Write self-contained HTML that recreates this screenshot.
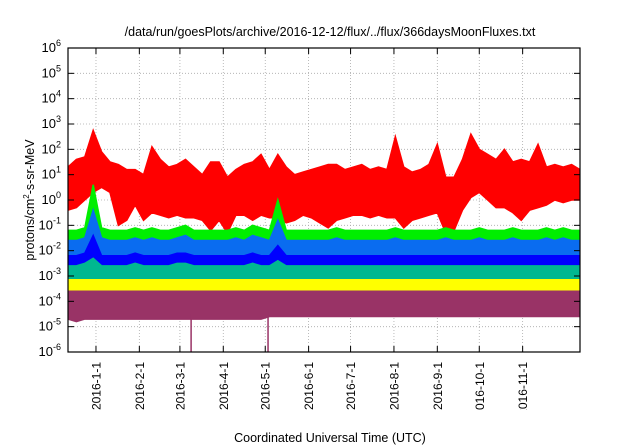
<!DOCTYPE html>
<html><head><meta charset="utf-8"><style>
body{margin:0;background:#fff}
svg{display:block;font-family:"Liberation Sans",sans-serif}
</style></head><body>
<svg id="chart" width="640" height="448" viewBox="0 0 640 448">
<defs><clipPath id="plotclip"><rect x="68" y="48" width="512" height="304"/></clipPath>
<clipPath id="labclip"><rect x="0" y="354" width="640" height="56"/></clipPath></defs>
<rect width="640" height="448" fill="#fff"/>
<text x="330" y="36" text-anchor="middle" font-size="12.5">/data/run/goesPlots/archive/2016-12-12/flux/../flux/366daysMoonFluxes.txt</text>
<g id="grid"></g>
<g id="series" clip-path="url(#plotclip)"></g>
<rect x="68" y="48" width="512" height="304" fill="none" stroke="#000" stroke-width="1.2"/>
<g id="axes"></g>
<g id="xlabels" clip-path="url(#labclip)"></g>
<text transform="translate(34,200) rotate(-90)" text-anchor="middle" font-size="12.5">protons/cm<tspan font-size="8" dy="-5">2</tspan><tspan dy="5">-s-sr-MeV</tspan></text>
<text x="330" y="442" text-anchor="middle" font-size="12.5">Coordinated Universal Time (UTC)</text>
</svg>
<script>
// days from 2015-12-12, sampled every 6 days; values are log10(flux)
const sampleStep = 6;
const redHi = [1.3,1.6,1.7,2.75,1.9,1.5,1.4,1.2,1.2,1.0,2.1,1.6,1.3,1.4,1.6,1.3,1.0,1.5,1.5,0.9,1.2,1.4,1.5,1.8,1.2,1.8,1.3,1.0,1.1,1.2,1.3,1.4,1.4,1.2,1.3,1.4,1.2,1.3,1.2,2.5,1.3,1.1,1.2,1.4,2.2,0.9,0.9,1.6,2.6,2.0,1.8,1.6,2.0,1.5,1.6,1.5,2.2,1.3,1.4,1.3,1.4,1.2];
const redLo = [-0.4,-0.3,0.0,0.3,0.5,0.3,-1.0,-0.8,-0.2,-0.8,-0.5,-0.6,-0.7,-0.6,-0.7,-0.7,-0.8,-1.2,-0.8,-1.3,-0.6,-0.6,-0.8,-0.6,-0.7,-0.7,-0.9,-0.8,-0.6,-0.7,-0.9,-1.1,-0.8,-0.7,-0.6,-0.6,-0.7,-0.6,-0.7,-0.7,-1.1,-0.8,-0.7,-0.6,-0.5,-1.3,-1.2,-0.4,0.1,0.3,0.0,-0.3,-0.3,-0.5,-0.8,-0.4,-0.3,-0.2,0.0,-0.1,0.0,0.0];
const greenHi = [-1.2,-1.2,-1.1,0.6,-1.1,-1.2,-1.2,-1.2,-1.1,-1.2,-1.1,-1.2,-1.2,-1.1,-1.0,-1.2,-1.2,-1.2,-1.2,-1.2,-1.1,-1.2,-1.0,-1.1,-1.2,0.0,-1.2,-1.2,-1.2,-1.2,-1.2,-1.2,-1.1,-1.2,-1.2,-1.2,-1.2,-1.2,-1.2,-1.1,-1.2,-1.2,-1.2,-1.2,-1.2,-1.1,-1.2,-1.2,-1.2,-1.1,-1.2,-1.2,-1.2,-1.1,-1.2,-1.2,-1.2,-1.1,-1.2,-1.1,-1.2,-1.2];
const greenLo = [-1.8,-1.8,-1.8,-1.8,-1.8,-1.8,-1.8,-1.8,-1.8,-1.8,-1.8,-1.8,-1.8,-1.8,-1.8,-1.8,-1.8,-1.8,-1.8,-1.8,-1.8,-1.8,-1.8,-1.8,-1.8,-1.8,-1.8,-1.8,-1.8,-1.8,-1.8,-1.8,-1.8,-1.8,-1.8,-1.8,-1.8,-1.8,-1.8,-1.8,-1.8,-1.8,-1.8,-1.8,-1.8,-1.8,-1.8,-1.8,-1.8,-1.8,-1.8,-1.8,-1.8,-1.8,-1.8,-1.8,-1.8,-1.8,-1.8,-1.8,-1.8,-1.8];
const skyHi = [-1.6,-1.6,-1.5,-0.4,-1.5,-1.6,-1.6,-1.6,-1.5,-1.6,-1.5,-1.6,-1.6,-1.5,-1.4,-1.6,-1.6,-1.6,-1.6,-1.6,-1.5,-1.6,-1.4,-1.5,-1.6,-0.8,-1.6,-1.6,-1.6,-1.6,-1.6,-1.6,-1.5,-1.6,-1.6,-1.6,-1.6,-1.6,-1.6,-1.5,-1.6,-1.6,-1.6,-1.6,-1.6,-1.5,-1.6,-1.6,-1.6,-1.5,-1.6,-1.6,-1.6,-1.5,-1.6,-1.6,-1.6,-1.5,-1.6,-1.5,-1.6,-1.6];
const skyLo = [-2.3,-2.3,-2.3,-2.3,-2.3,-2.3,-2.3,-2.3,-2.3,-2.3,-2.3,-2.3,-2.3,-2.3,-2.3,-2.3,-2.3,-2.3,-2.3,-2.3,-2.3,-2.3,-2.3,-2.3,-2.3,-2.3,-2.3,-2.3,-2.3,-2.3,-2.3,-2.3,-2.3,-2.3,-2.3,-2.3,-2.3,-2.3,-2.3,-2.3,-2.3,-2.3,-2.3,-2.3,-2.3,-2.3,-2.3,-2.3,-2.3,-2.3,-2.3,-2.3,-2.3,-2.3,-2.3,-2.3,-2.3,-2.3,-2.3,-2.3,-2.3,-2.3];
const blueHi = [-2.2,-2.2,-2.1,-1.4,-2.2,-2.2,-2.2,-2.2,-2.1,-2.2,-2.2,-2.2,-2.2,-2.1,-2.1,-2.2,-2.2,-2.2,-2.2,-2.2,-2.2,-2.2,-2.1,-2.2,-2.2,-1.8,-2.2,-2.2,-2.2,-2.2,-2.2,-2.2,-2.2,-2.2,-2.2,-2.2,-2.2,-2.2,-2.2,-2.2,-2.2,-2.2,-2.2,-2.2,-2.2,-2.2,-2.2,-2.2,-2.2,-2.2,-2.2,-2.2,-2.2,-2.2,-2.2,-2.2,-2.2,-2.2,-2.2,-2.2,-2.2,-2.2];
const blueLo = [-2.8,-2.8,-2.8,-2.8,-2.8,-2.8,-2.8,-2.8,-2.8,-2.8,-2.8,-2.8,-2.8,-2.8,-2.8,-2.8,-2.8,-2.8,-2.8,-2.8,-2.8,-2.8,-2.8,-2.8,-2.8,-2.8,-2.8,-2.8,-2.8,-2.8,-2.8,-2.8,-2.8,-2.8,-2.8,-2.8,-2.8,-2.8,-2.8,-2.8,-2.8,-2.8,-2.8,-2.8,-2.8,-2.8,-2.8,-2.8,-2.8,-2.8,-2.8,-2.8,-2.8,-2.8,-2.8,-2.8,-2.8,-2.8,-2.8,-2.8,-2.8,-2.8];
const tealHi = [-2.6,-2.6,-2.5,-2.3,-2.6,-2.6,-2.6,-2.6,-2.5,-2.6,-2.6,-2.6,-2.6,-2.5,-2.5,-2.6,-2.6,-2.6,-2.6,-2.6,-2.6,-2.6,-2.5,-2.6,-2.6,-2.4,-2.6,-2.6,-2.6,-2.6,-2.6,-2.6,-2.6,-2.6,-2.6,-2.6,-2.6,-2.6,-2.6,-2.6,-2.6,-2.6,-2.6,-2.6,-2.6,-2.6,-2.6,-2.6,-2.6,-2.6,-2.6,-2.6,-2.6,-2.6,-2.6,-2.6,-2.6,-2.6,-2.6,-2.6,-2.6,-2.6];
const tealLo = [-3.3,-3.3,-3.3,-3.3,-3.3,-3.3,-3.3,-3.3,-3.3,-3.3,-3.3,-3.3,-3.3,-3.3,-3.3,-3.3,-3.3,-3.3,-3.3,-3.3,-3.3,-3.3,-3.3,-3.3,-3.3,-3.3,-3.3,-3.3,-3.3,-3.3,-3.3,-3.3,-3.3,-3.3,-3.3,-3.3,-3.3,-3.3,-3.3,-3.3,-3.3,-3.3,-3.3,-3.3,-3.3,-3.3,-3.3,-3.3,-3.3,-3.3,-3.3,-3.3,-3.3,-3.3,-3.3,-3.3,-3.3,-3.3,-3.3,-3.3,-3.3,-3.3];
const yellowHi = [-3.15,-3.15,-3.15,-3.15,-3.15,-3.15,-3.15,-3.15,-3.15,-3.15,-3.15,-3.15,-3.15,-3.15,-3.15,-3.15,-3.15,-3.15,-3.15,-3.15,-3.15,-3.15,-3.15,-3.15,-3.15,-3.15,-3.15,-3.15,-3.15,-3.15,-3.15,-3.15,-3.15,-3.15,-3.15,-3.15,-3.15,-3.15,-3.15,-3.15,-3.15,-3.15,-3.15,-3.15,-3.15,-3.15,-3.15,-3.15,-3.15,-3.15,-3.15,-3.15,-3.15,-3.15,-3.15,-3.15,-3.15,-3.15,-3.15,-3.15,-3.15,-3.15];
const yellowLo = [-3.7,-3.7,-3.7,-3.7,-3.7,-3.7,-3.7,-3.7,-3.7,-3.7,-3.7,-3.7,-3.7,-3.7,-3.7,-3.7,-3.7,-3.7,-3.7,-3.7,-3.7,-3.7,-3.7,-3.7,-3.7,-3.7,-3.7,-3.7,-3.7,-3.7,-3.7,-3.7,-3.7,-3.7,-3.7,-3.7,-3.7,-3.7,-3.7,-3.7,-3.7,-3.7,-3.7,-3.7,-3.7,-3.7,-3.7,-3.7,-3.7,-3.7,-3.7,-3.7,-3.7,-3.7,-3.7,-3.7,-3.7,-3.7,-3.7,-3.7,-3.7,-3.7];
const purpleHi = [-3.6,-3.6,-3.6,-3.6,-3.6,-3.6,-3.6,-3.6,-3.6,-3.6,-3.6,-3.6,-3.6,-3.6,-3.6,-3.6,-3.6,-3.6,-3.6,-3.6,-3.6,-3.6,-3.6,-3.6,-3.6,-3.6,-3.6,-3.6,-3.6,-3.6,-3.6,-3.6,-3.6,-3.6,-3.6,-3.6,-3.6,-3.6,-3.6,-3.6,-3.6,-3.6,-3.6,-3.6,-3.6,-3.6,-3.6,-3.6,-3.6,-3.6,-3.6,-3.6,-3.6,-3.6,-3.6,-3.6,-3.6,-3.6,-3.6,-3.6,-3.6,-3.6];
const purpleLo = [-4.7,-4.8,-4.7,-4.7,-4.7,-4.7,-4.7,-4.7,-4.7,-4.7,-4.7,-4.7,-4.7,-4.7,-4.7,-4.7,-4.7,-4.7,-4.7,-4.7,-4.7,-4.7,-4.7,-4.7,-4.6,-4.6,-4.6,-4.6,-4.6,-4.6,-4.6,-4.6,-4.6,-4.6,-4.6,-4.6,-4.6,-4.6,-4.6,-4.6,-4.6,-4.6,-4.6,-4.6,-4.6,-4.6,-4.6,-4.6,-4.6,-4.6,-4.6,-4.6,-4.6,-4.6,-4.6,-4.6,-4.6,-4.6,-4.6,-4.6,-4.6,-4.6];
const spikeDays = [88, 143];
const spikeLog = [-6, -6];
const monthLabels = ["2016-1-1","2016-2-1","2016-3-1","2016-4-1","2016-5-1","2016-6-1","2016-7-1","2016-8-1","2016-9-1","2016-10-1","2016-11-1"];
const monthDays = [20,51,80,111,141,172,202,233,264,294,325];
const yDecades = [-6,-5,-4,-3,-2,-1,0,1,2,3,4,5,6];

const L=68,R=580,T=48,B=352,NDAYS=366,YMIN=-6,YMAX=6;
const xs=d=>L+d*(R-L)/NDAYS;
const ys=v=>B-(v-YMIN)*(B-T)/(YMAX-YMIN);
const NS='http://www.w3.org/2000/svg';
function mk(tag,attrs,parent){const e=document.createElementNS(NS,tag);for(const k in attrs)e.setAttribute(k,attrs[k]);parent.appendChild(e);return e;}
const grid=document.getElementById('grid'),axes=document.getElementById('axes'),ser=document.getElementById('series'),xl=document.getElementById('xlabels');
yDecades.forEach(v=>{
  const y=ys(v);
  if(v>YMIN&&v<YMAX){const g=mk('line',{x1:L,x2:R,y1:y,y2:y,stroke:'#aaa','stroke-width':0.8,'stroke-dasharray':'1,2'},grid);
  
  }
  const t1=mk('line',{x1:L,x2:L+6,y1:y,y2:y,stroke:'#000'},axes);
  
  
  const t2=mk('line',{x1:R-6,x2:R,y1:y,y2:y,stroke:'#000'},axes);
  
  
  const tx=mk('text',{x:L-7,y:y+4,'text-anchor':'end','font-size':13},axes);
  
  
  tx.innerHTML='10<tspan font-size="9" dy="-6">'+v+'</tspan>';
});
monthDays.forEach((d,i)=>{
  const x=xs(d);
  const g=mk('line',{x1:x,x2:x,y1:T,y2:B,stroke:'#aaa','stroke-width':0.8,'stroke-dasharray':'1,2'},grid);
  
  
  const t=mk('line',{x1:x,x2:x,y1:B-6,y2:B,stroke:'#000'},axes);
  
  
  const t2=mk('line',{x1:x,x2:x,y1:T,y2:T+6,stroke:'#000'},axes);
  
  
  const tx=mk('text',{transform:'translate('+(x+4.5)+','+(B+10)+') rotate(-90)','text-anchor':'end','font-size':12},xl);
  
  
  tx.textContent=monthLabels[i];
});
function band(hi,lo,color,name){
  let p=[];
  hi.forEach((v,i)=>p.push(xs(Math.min(i*sampleStep,NDAYS))+','+ys(v)));
  for(let i=lo.length-1;i>=0;i--)p.push(xs(Math.min(i*sampleStep,NDAYS))+','+ys(lo[i]));
  const e=mk('polygon',{points:p.join(' '),fill:color,stroke:color,'stroke-width':1.5,'stroke-linejoin':'miter'},ser);
  
  
}
band(redHi,redLo,'#ff0000','series-red');
band(greenHi,greenLo,'#00ee00','series-green');
band(skyHi,skyLo,'#0a6cf0','series-light-blue');
band(blueHi,blueLo,'#0000ff','series-blue');
band(tealHi,tealLo,'#00b890','series-teal');
band(yellowHi,yellowLo,'#ffff00','series-yellow');
band(purpleHi,purpleLo,'#993366','series-purple');
spikeDays.forEach((d,i)=>{
  const e=mk('line',{x1:xs(d),x2:xs(d),y1:ys(-4.5),y2:ys(spikeLog[i]),stroke:'#993366','stroke-width':1.5},ser);
  
  
});
</script>
</body></html>
